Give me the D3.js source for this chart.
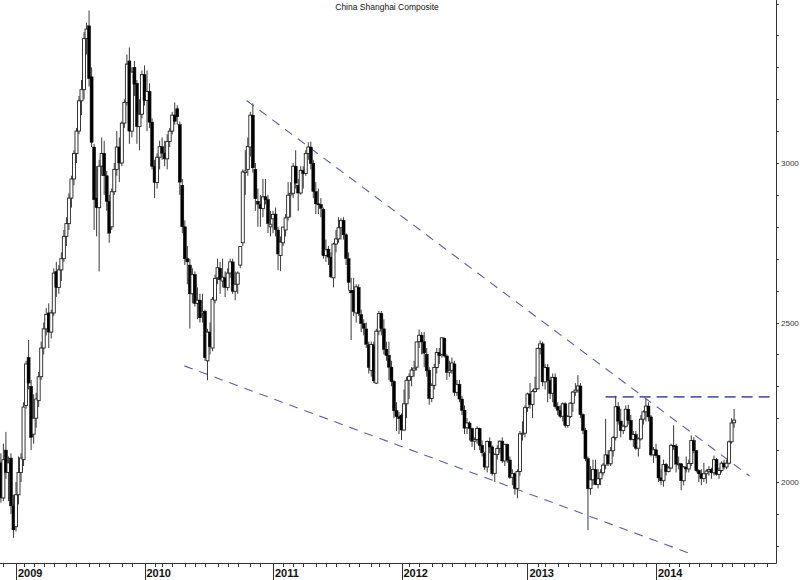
<!DOCTYPE html>
<html><head><meta charset="utf-8">
<script src="https://cdn.jsdelivr.net/npm/d3@7/dist/d3.min.js"></script>
<style>html,body{margin:0;padding:0;background:#fff;} svg{display:block;}</style>
</head><body>
<svg id="chart" width="800" height="580"></svg>
<script>
// ---------- categories ----------
const title = "China Shanghai Composite";
const firstWeek = "2008-11-24";       // Monday of first weekly bar
const axisEndWeek = "2014-12-29";     // axis continues past the data
const closedWeeks = ["2009-01-26","2010-02-15","2011-10-03","2012-01-23","2012-10-01","2013-02-11"];
const yearLabels = ["2009","2010","2011","2012","2013","2014"];
const yearStartWeeks = ["2009-01-05","2010-01-04","2011-01-03","2012-01-02","2012-12-31","2013-12-30"];
const priceTicks = [1800,1900,2000,2100,2200,2300,2400,2500,2600,2700,2800,2900,3000,3100,3200,3300,3400,3500];
const priceLabels = [2000,2500,3000];

// ---------- weekly OHLC ----------
const open08 = [2060,1950,2100,2030,2075,1925];
const high08 = [2090,2120,2157,2080,2090,1960];
const low08  = [1935,1940,2010,1940,1900,1825];
const close08= [1950,2070,2030,2060,1925,1850];

const open09 = [1860,1960,2030,2070,2240,2390,2300,2150,2200,2255,2330,2420,2480,2530,2470,2530,2660,2610,2665,2700,2770,2810,2890,2950,3030,3100,3195,3230,3390,3430,3270,3050,2890,2860,2990,3030,2960,2880,2800,2910,2980,3050,3000,3125,3190,3320,3100,3300,3250,3114,3153];
const high09 = [2000,2080,2090,2250,2380,2445,2320,2275,2280,2345,2440,2500,2545,2560,2540,2670,2690,2680,2720,2790,2830,2905,2960,3040,3110,3210,3260,3410,3440,3478,3300,3060,2990,3010,3080,3070,2975,2900,2920,3000,3100,3080,3130,3200,3340,3362,3300,3320,3260,3200,3290];
const low09  = [1845,1930,2000,2050,2230,2290,2100,2120,2170,2235,2320,2400,2460,2420,2450,2520,2580,2590,2630,2690,2740,2790,2860,2930,3000,3090,3150,3200,3340,3240,3050,2790,2770,2660,2960,2900,2850,2750,2790,2900,2960,2940,2990,3110,3180,3060,3080,3210,3060,3040,3140];
const close09= [1960,2030,2075,2235,2370,2310,2140,2200,2260,2330,2420,2480,2525,2470,2530,2655,2610,2665,2700,2770,2810,2890,2950,3030,3100,3195,3230,3390,3420,3265,3065,2885,2860,2990,3030,2960,2880,2780,2910,2980,3050,3000,3125,3190,3310,3100,3285,3247,3114,3153,3277];

const open10 = [3277,3196,3224,3128,2990,2939,3018,3051,3031,3013,3067,3100,3150,3170,3120,2930,2800,2700,2680,2590,2650,2560,2570,2530,2535,2380,2470,2420,2570,2640,2670,2630,2640,2610,2655,2690,2598,2620,2680,2750,2970,2980,3050,3150,2980,2880,2870,2857,2894,2885,2800];
const high10 = [3306,3290,3250,3140,3010,3030,3070,3080,3070,3090,3110,3160,3190,3181,3130,2950,2820,2740,2700,2670,2660,2610,2590,2590,2540,2480,2500,2580,2650,2700,2690,2700,2660,2670,2700,2700,2660,2660,2740,2980,3040,3080,3160,3187,3000,2920,2900,2950,2950,2900,2850];
const low10  = [3180,3100,3110,2980,2890,2920,2980,3010,2990,2980,3050,3090,3120,3120,2900,2780,2680,2620,2481,2560,2550,2510,2500,2500,2380,2319,2400,2410,2560,2620,2590,2610,2580,2600,2640,2590,2570,2590,2670,2740,2900,2960,3020,2970,2850,2800,2800,2830,2870,2780,2770];
const close10= [3196,3224,3128,2990,2939,3018,3051,3031,3013,3067,3100,3150,3131,3145,2940,2800,2700,2690,2590,2650,2560,2570,2515,2535,2390,2470,2424,2573,2638,2672,2634,2642,2610,2655,2690,2598,2620,2655,2738,2972,2975,3052,3150,2985,2888,2871,2857,2894,2885,2810,2808];

const open11 = [2825,2840,2790,2710,2750,2790,2830,2900,2905,2990,2930,2906,2977,2967,3030,3050,2999,2910,2872,2870,2855,2710,2730,2705,2640,2746,2762,2797,2820,2775,2700,2600,2600,2530,2610,2525,2497,2480,2430,2350,2430,2310,2473,2528,2480,2416,2397,2360,2315,2224,2205];
const high11 = [2850,2860,2800,2770,2800,2840,2940,2940,3000,3040,2950,2990,2990,3040,3065,3067,3010,2940,2920,2890,2860,2760,2740,2720,2750,2790,2830,2827,2830,2780,2720,2640,2640,2620,2620,2540,2510,2500,2440,2440,2440,2480,2536,2536,2510,2440,2440,2380,2320,2250,2220];
const low11  = [2780,2770,2664,2661,2740,2770,2820,2830,2890,2920,2850,2900,2920,2960,3010,2980,2890,2840,2840,2830,2700,2690,2680,2640,2610,2720,2750,2760,2760,2680,2600,2445,2520,2500,2520,2470,2460,2420,2340,2330,2310,2307,2460,2460,2400,2380,2320,2300,2200,2160,2150];
const close11= [2839,2791,2715,2752,2799,2828,2899,2905,2990,2937,2906,2977,2967,3030,3050,2999,2911,2872,2871,2858,2710,2728,2705,2643,2746,2762,2797,2820,2775,2701,2626,2593,2534,2612,2528,2497,2482,2432,2359,2431,2317,2473,2528,2481,2416,2397,2360,2315,2224,2205,2199];

const open12 = [2210,2163,2245,2319,2331,2351,2360,2440,2460,2440,2400,2350,2262,2303,2359,2406,2400,2450,2395,2344,2350,2370,2281,2306,2260,2225,2170,2185,2168,2128,2133,2168,2115,2090,2047,2127,2110,2027,2086,2105,2128,2066,2118,2069,2015,2026,1980,2033,2151,2153];
const high12 = [2215,2290,2330,2340,2360,2380,2440,2478,2470,2470,2420,2360,2310,2370,2420,2420,2453,2453,2400,2380,2390,2380,2320,2320,2270,2240,2200,2190,2170,2140,2175,2170,2130,2095,2130,2140,2115,2090,2115,2130,2140,2120,2120,2080,2040,2030,2040,2160,2190,2240];
const low12  = [2132,2160,2200,2260,2300,2330,2350,2420,2400,2360,2330,2242,2250,2290,2340,2370,2390,2390,2320,2330,2340,2270,2270,2250,2210,2150,2150,2130,2110,2100,2120,2100,2080,2038,2030,2090,2020,2000,2070,2090,2060,2050,2060,2010,1990,1960,1949,2020,2130,2140];
const close12= [2163,2245,2319,2331,2351,2357,2439,2460,2439,2404,2349,2262,2303,2359,2406,2396,2452,2395,2344,2350,2373,2281,2306,2260,2225,2169,2185,2168,2128,2133,2168,2115,2092,2047,2127,2110,2027,2086,2105,2128,2066,2118,2069,2015,2026,1980,2033,2151,2153,2233];

const open13 = [2233,2276,2243,2284,2292,2419,2433,2314,2359,2319,2278,2328,2237,2225,2206,2245,2177,2205,2247,2282,2288,2301,2211,2162,2073,1979,2007,2039,1992,2010,2029,2053,2085,2057,2098,2139,2236,2191,2161,2175,2228,2193,2133,2149,2106,2135,2197,2220,2238,2204,2085];
const high13 = [2280,2310,2290,2330,2420,2444,2440,2370,2370,2330,2340,2340,2250,2240,2250,2250,2210,2250,2285,2310,2335,2310,2215,2170,2080,2050,2070,2070,2040,2040,2060,2198,2100,2110,2145,2270,2250,2230,2180,2240,2242,2210,2160,2160,2140,2210,2225,2260,2250,2210,2110];
const low13  = [2220,2230,2200,2280,2290,2400,2300,2290,2250,2260,2250,2230,2210,2200,2190,2170,2170,2200,2220,2270,2280,2200,2150,2065,1849,1960,1990,1990,1980,1990,2020,2040,2050,2050,2080,2130,2180,2140,2150,2170,2180,2130,2110,2100,2080,2130,2180,2190,2190,2080,2060];
const close13= [2276,2243,2284,2292,2419,2433,2314,2359,2319,2278,2328,2237,2225,2206,2245,2177,2205,2247,2282,2288,2301,2211,2162,2073,1979,2007,2039,1992,2010,2029,2053,2085,2057,2098,2139,2236,2191,2161,2175,2228,2193,2133,2149,2106,2135,2197,2220,2238,2204,2085,2101];

const open14 = [2101,2083,2013,2004,2055,2033,2044,2115,2113,2056,2057,2004,2047,2041,2058,2130,2098,2036,2026,2011,2026,2034,2039,2029,2070,2024,2036,2059,2047,2059,2126,2186];
const high14 = [2120,2085,2040,2070,2060,2050,2120,2178,2120,2080,2060,2050,2080,2070,2146,2140,2100,2040,2040,2060,2040,2050,2045,2083,2075,2045,2065,2070,2070,2130,2200,2229];
const low14  = [2075,2000,1990,1985,2020,2030,2040,2100,2030,2040,1974,1990,2030,2030,2050,2090,2030,2000,1990,2000,1995,2020,2010,2020,2020,2010,2030,2040,2040,2055,2120,2170];
const close14= [2083,2013,2004,2055,2033,2044,2115,2113,2056,2057,2004,2047,2041,2058,2130,2098,2036,2026,2011,2026,2034,2039,2029,2070,2024,2036,2059,2047,2059,2126,2185,2194];

// ---------- trend lines: [bar index, price] ----------
const upperTrend = [[97.5, 3196], [297.1, 2019]];
const lowerTrend = [[72.8, 2364], [274.1, 1774]];
const resistance = [[240, 2267], [305.9, 2267]];

// ---------- build ----------
const open  = [].concat(open08, open09, open10, open11, open12, open13, open14);
const high  = [].concat(high08, high09, high10, high11, high12, high13, high14);
const low   = [].concat(low08, low09, low10, low11, low12, low13, low14);
const close = [].concat(close08, close09, close10, close11, close12, close13, close14);

const parse = d3.utcParse("%Y-%m-%d"), fmt = d3.utcFormat("%Y-%m-%d");
const closedSet = new Set(closedWeeks);
const axisWeeks = d3.utcMonday.range(parse(firstWeek), d3.utcDay.offset(parse(axisEndWeek), 1))
  .filter(d => !closedSet.has(fmt(d)));
const idxOf = s => axisWeeks.findIndex(d => fmt(d) === s);

const n = Math.min(open.length, high.length, low.length, close.length);
const bars = d3.range(n).map(i => ({i, o: open[i], h: high[i], l: low[i], c: close[i]}));

const W = 800, H = 580, axisX = 776, axisY = 563;
const x = d3.scaleLinear()
  .domain([idxOf(yearStartWeeks[0]), idxOf(yearStartWeeks[yearStartWeeks.length - 1])])
  .range([16, 656]);
const y = d3.scaleLinear().domain([2000, 3000]).range([482, 163]);

const svg = d3.select("#chart");
svg.append("rect").attr("width", W).attr("height", H).attr("fill", "#fff");

// title
svg.append("text").attr("x", 387).attr("y", 9.5).attr("text-anchor", "middle")
  .attr("font-family", "Liberation Sans, Arial, sans-serif").attr("font-size", 8.5)
  .attr("fill", "#111").text(title);

// trend lines
const lineGen = d3.line().x(d => x(d[0])).y(d => y(d[1]));
const tl = svg.append("g").attr("fill", "none").attr("stroke", "#5d5dab");
tl.append("path").attr("d", lineGen(upperTrend)).attr("stroke-width", 1.1).attr("stroke-dasharray", "9,7");
tl.append("path").attr("d", lineGen(lowerTrend)).attr("stroke-width", 1.1).attr("stroke-dasharray", "9,7");
tl.append("path").attr("d", lineGen(resistance)).attr("stroke-width", 1.6).attr("stroke-dasharray", "11,6");

// candles
const cg = svg.append("g");
const bw = 3;
const candle = cg.selectAll("g.c").data(bars).join("g").attr("class", "c");
candle.append("line")
  .attr("x1", d => x(d.i)).attr("x2", d => x(d.i))
  .attr("y1", d => y(d.h)).attr("y2", d => y(d.l))
  .attr("stroke", "#3a3a3a").attr("stroke-width", 1);
candle.append("rect")
  .attr("x", d => x(d.i) - bw / 2).attr("width", bw)
  .attr("y", d => y(Math.max(d.o, d.c)))
  .attr("height", d => Math.max(1, Math.abs(y(d.o) - y(d.c))))
  .attr("fill", d => d.c >= d.o ? "#fff" : "#000")
  .attr("stroke", d => d.c >= d.o ? "#222" : "#000")
  .attr("stroke-width", d => d.c >= d.o ? 0.9 : 0.5);

// right axis
const ra = svg.append("g").attr("transform", `translate(${axisX},0)`)
  .call(d3.axisRight(y).tickValues(priceTicks).tickSize(3).tickPadding(2)
    .tickFormat(d => priceLabels.includes(d) ? String(d) : ""));
ra.select(".domain").remove();
ra.selectAll("line").attr("stroke", "#333").attr("shape-rendering", "crispEdges");
ra.selectAll("text").attr("font-family", "Liberation Sans, Arial, sans-serif")
  .attr("font-size", 8).attr("fill", "#333");
svg.append("line").attr("x1", axisX + 0.5).attr("x2", axisX + 0.5).attr("y1", 0).attr("y2", axisY + 0.5)
  .attr("stroke", "#333").attr("stroke-width", 1);

// bottom axis: month ticks
const fri = d => d3.utcDay.offset(d, 4);
const monthTicks = [];
for (let i = 1; i < axisWeeks.length; i++) {
  const m = fri(axisWeeks[i]).getUTCMonth(), pm = fri(axisWeeks[i - 1]).getUTCMonth();
  if (m !== pm && m !== 0 && x(i) < axisX - 2) monthTicks.push(i);
}
const ba = svg.append("g").attr("transform", `translate(0,${axisY})`)
  .call(d3.axisBottom(x).tickValues(monthTicks).tickSize(4).tickFormat(""));
ba.select(".domain").remove();
ba.selectAll("line").attr("stroke", "#333").attr("shape-rendering", "crispEdges");
svg.append("line").attr("x1", 0).attr("x2", axisX + 0.5).attr("y1", axisY + 0.5).attr("y2", axisY + 0.5)
  .attr("stroke", "#333").attr("stroke-width", 1);

// year ticks + labels
const years = yearLabels.map((lab, k) => ({lab, i: idxOf(yearStartWeeks[k])}));
const yg = svg.append("g");
yg.selectAll("line").data(years).join("line")
  .attr("x1", d => Math.round(x(d.i)) + 0.5).attr("x2", d => Math.round(x(d.i)) + 0.5)
  .attr("y1", axisY).attr("y2", H).attr("stroke", "#333");
yg.selectAll("text").data(years).join("text")
  .attr("x", d => x(d.i) + 2).attr("y", 577)
  .attr("font-family", "Liberation Sans, Arial, sans-serif").attr("font-size", 11)
  .attr("font-weight", "bold").attr("fill", "#111").text(d => d.lab);
</script>
</body></html>
